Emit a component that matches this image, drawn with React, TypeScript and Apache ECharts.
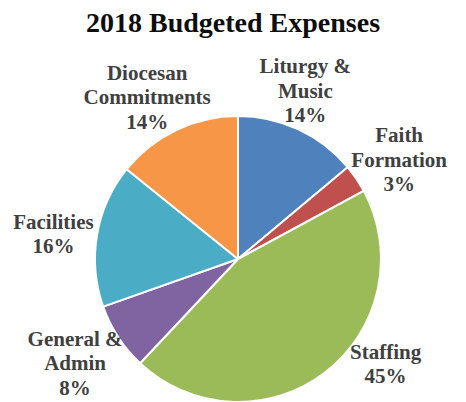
import React, { useEffect, useRef } from "react";
import * as echarts from "echarts";

const categories = ["Liturgy &\nMusic", "Faith\nFormation", "Staffing", "General &\nAdmin", "Facilities", "Diocesan\nCommitments"];
const values = [13.9, 3.2, 44.9, 7.6, 16.2, 14.2];
const colors = ["#4f81bd", "#c0504d", "#9bbb59", "#8064a2", "#4bacc6", "#f79646"];

const CX = 238;
const CY = 259;
const R = 143;
const LABEL_FONT = "bold 21px 'Liberation Serif'";
const LINE_H = 24.5;

export default function App() {
  const ref = useRef<HTMLDivElement>(null);
  useEffect(() => {
    if (!ref.current) return;
    const chart = echarts.init(ref.current, null, { renderer: "svg" });
    const total = values.reduce((a, b) => a + b, 0);
    const mids: number[] = [];
    let acc = 0;
    values.forEach((v) => {
      mids.push(((acc + v / 2) / total) * 2 * Math.PI);
      acc += v;
    });
    const ctx = document.createElement("canvas").getContext("2d")!;
    ctx.font = LABEL_FONT;
    const labelText = (i: number) => categories[i] + "\n" + Math.round((values[i] / total) * 100) + "%";
    const sizes = values.map((_, i) => {
      const lines = labelText(i).split("\n");
      const w = Math.max(...lines.map((l) => ctx.measureText(l).width));
      return { w, h: lines.length * LINE_H };
    });
    const place = (theta: number, w: number, h: number) => {
      const dx = Math.sin(theta);
      const dy = -Math.cos(theta);
      const ar = R + 4;
      return { x: CX + dx * ar + (dx * w) / 2, y: CY + dy * ar + (dy * h) / 2 };
    };
    // best-fit style placement
    const thetas = mids.slice();
    const pos = thetas.map((t, i) => place(t, sizes[i].w, sizes[i].h));
    const centerLimit = 360;
    pos.forEach((p, i) => {
      let g = 0;
      while (pos[i].y > centerLimit && g < 300) {
        thetas[i] += thetas[i] < Math.PI ? -0.005 : 0.005;
        pos[i] = place(thetas[i], sizes[i].w, sizes[i].h);
        g++;
      }
    });
    const overlap = (a: number, b: number) => {
      const A = pos[a], B = pos[b];
      return Math.abs(A.x - B.x) < (sizes[a].w + sizes[b].w) / 2 && Math.abs(A.y - B.y) < (sizes[a].h + sizes[b].h) / 2;
    };
    for (let i = 0; i < values.length - 1; i++) {
      let g = 0;
      while (overlap(i, i + 1) && g < 300) {
        thetas[i] -= 0.005;
        pos[i] = place(thetas[i], sizes[i].w, sizes[i].h);
        g++;
      }
    }
    const baselineShift = 4;
    chart.setOption({
      animation: false,
      title: {
        text: "2018 Budgeted Expenses",
        left: "center",
        top: 3,
        textStyle: { fontFamily: "'Liberation Serif', serif", fontWeight: "bold", fontSize: 28, color: "#0d0d0d" },
      },
      series: [
        {
          type: "pie",
          center: [CX, CY],
          radius: R,
          startAngle: 90,
          clockwise: true,
          data: categories.map((c, i) => ({ name: c, value: values[i], itemStyle: { color: colors[i] } })),
          itemStyle: { borderColor: "#fff", borderWidth: 2 },
          label: {
            show: true,
            position: "outside",
            formatter: (p: any) => labelText(p.dataIndex),
            fontFamily: "'Liberation Serif', serif",
            fontWeight: "bold",
            fontSize: 21,
            lineHeight: LINE_H,
            color: "#404040",
            width: 200,
            overflow: "none",
          },
          labelLine: { show: false, length: 6, length2: 0 },
          labelLayout: (params: any) => {
            const p = pos[params.dataIndex];
            return { x: p.x, y: p.y + baselineShift, align: "center", verticalAlign: "middle" };
          },
        },
      ],
    });
    return () => chart.dispose();
  }, []);
  return <div ref={ref} style={{ position: "absolute", left: 0, top: 0, width: 466, height: 402 }} />;
}
